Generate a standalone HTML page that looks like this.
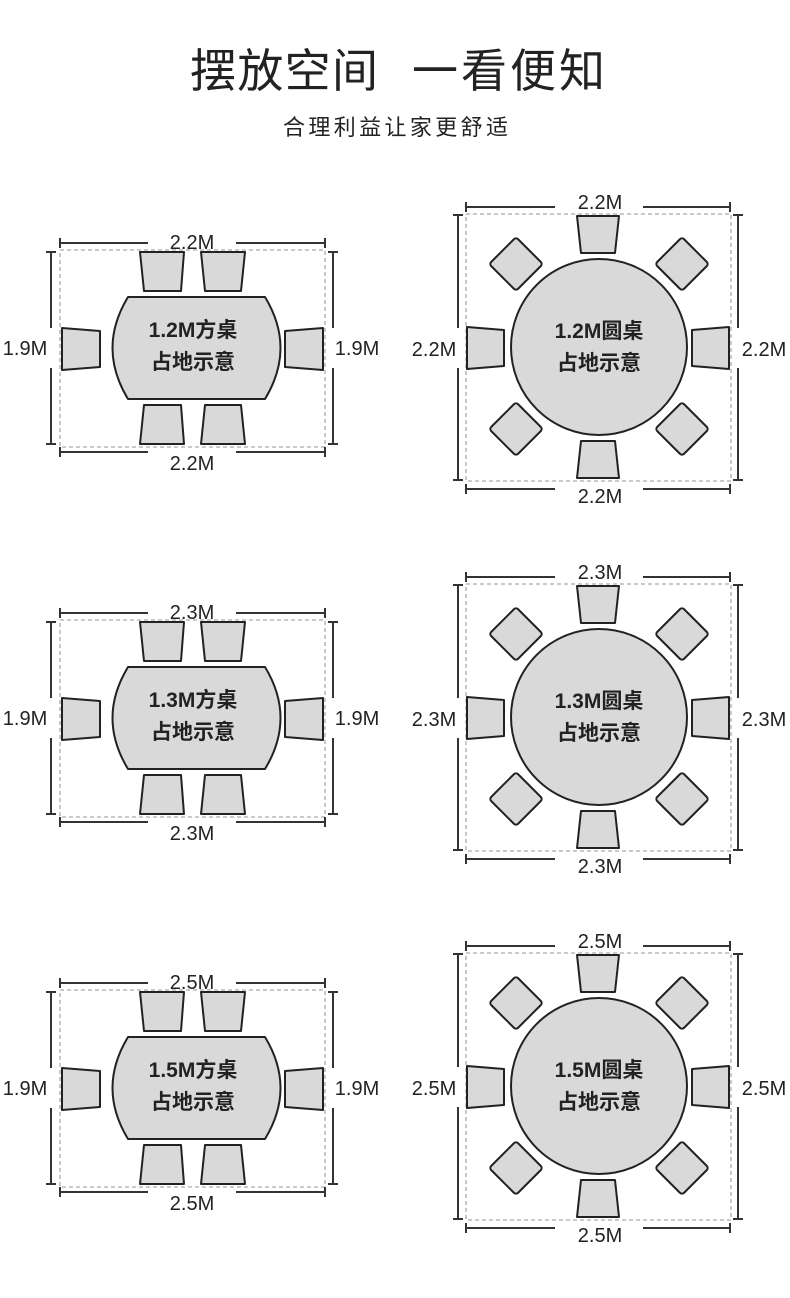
<!DOCTYPE html>
<html><head><meta charset="utf-8"><style>
html,body{margin:0;padding:0;background:#fff;}
svg{display:block;}
text{font-family:"Liberation Sans","Noto Sans CJK SC",sans-serif;fill:#222;}
.cn{font-family:"Noto Sans CJK SC",sans-serif;}
</style></head><body>
<svg width="790" height="1298" viewBox="0 0 790 1298" xmlns="http://www.w3.org/2000/svg">
<defs>
<g id="rect">
  <rect x="60" y="250" width="265" height="197" fill="none" stroke="#aaa" stroke-width="1.3" stroke-dasharray="4,3"/>
  <g stroke="#333" stroke-width="2" fill="none">
    <path d="M60 243H148M236 243H325M60 238V248M325 238V248"/>
    <path d="M60 452H148M236 452H325M60 447V457M325 447V457"/>
    <path d="M51 252V328M51 368V444M46 252H56M46 444H56"/>
    <path d="M333 252V328M333 368V444M328 252H338M328 444H338"/>
  </g>
  <g fill="#d9d9d9" stroke="#222" stroke-width="2" stroke-linejoin="round">
    <path d="M128 297H265Q296 348 265 399H128Q97 348 128 297Z"/>
    <path d="M140 252H184L181 291H144Z"/>
    <path d="M201 252H245L241 291H205Z"/>
    <path d="M144 405H181L184 444H140Z"/>
    <path d="M205 405H241L245 444H201Z"/>
    <path d="M62 328L100 331V367L62 370Z"/>
    <path d="M323 328L285 331V367L323 370Z"/>
  </g>
  <g font-size="20" text-anchor="middle">
    <text x="25" y="355">1.9M</text>
    <text x="357" y="355">1.9M</text>
  </g>
</g>
<g id="round">
  <rect x="466" y="214" width="265" height="267" fill="none" stroke="#aaa" stroke-width="1.3" stroke-dasharray="4,3"/>
  <g stroke="#333" stroke-width="2" fill="none">
    <path d="M466 207H555M643 207H730M466 202V212M730 202V212"/>
    <path d="M466 489H555M643 489H730M466 484V494M730 484V494"/>
    <path d="M458 215V328M458 368V480M453 215H463M453 480H463"/>
    <path d="M738 215V328M738 368V480M733 215H743M733 480H743"/>
  </g>
  <g fill="#d9d9d9" stroke="#222" stroke-width="2" stroke-linejoin="round">
    <circle cx="599" cy="347" r="88"/>
    <path d="M577 216H619L615 253H581Z"/>
    <path d="M581 441H615L619 478H577Z"/>
    <path d="M467 327L504 330V366L467 369Z"/>
    <path d="M729 327L692 330V366L729 369Z"/>
    <rect x="-19" y="-19" width="38" height="38" rx="3" transform="translate(516,264) rotate(45)"/>
    <rect x="-19" y="-19" width="38" height="38" rx="3" transform="translate(682,264) rotate(45)"/>
    <rect x="-19" y="-19" width="38" height="38" rx="3" transform="translate(516,429) rotate(45)"/>
    <rect x="-19" y="-19" width="38" height="38" rx="3" transform="translate(682,429) rotate(45)"/>
  </g>
</g>
</defs>
<text class="cn" x="190" y="87" font-size="46" textLength="188">摆放空间</text>
<text class="cn" x="412" y="87" font-size="46" textLength="193">一看便知</text>
<text class="cn" x="283" y="135" font-size="22" textLength="225" fill="#333">合理利益让家更舒适</text>

<use href="#rect"/>
<use href="#round"/>
<use href="#rect" y="370"/>
<use href="#round" y="370"/>
<use href="#rect" y="740"/>
<use href="#round" y="739"/>

<g font-size="21" font-weight="bold" text-anchor="middle">
  <text x="193" y="337">1.2M方桌</text><text x="193" y="369">占地示意</text>
  <text x="599" y="338">1.2M圆桌</text><text x="599" y="370">占地示意</text>
  <text x="193" y="707">1.3M方桌</text><text x="193" y="739">占地示意</text>
  <text x="599" y="708">1.3M圆桌</text><text x="599" y="740">占地示意</text>
  <text x="193" y="1077">1.5M方桌</text><text x="193" y="1109">占地示意</text>
  <text x="599" y="1077">1.5M圆桌</text><text x="599" y="1109">占地示意</text>
</g>
<g font-size="20" text-anchor="middle">
  <text x="192" y="249">2.2M</text><text x="192" y="470">2.2M</text>
  <text x="600" y="209">2.2M</text><text x="600" y="503">2.2M</text>
  <text x="434" y="356">2.2M</text><text x="764" y="356">2.2M</text>

  <text x="192" y="619">2.3M</text><text x="192" y="840">2.3M</text>
  <text x="600" y="579">2.3M</text><text x="600" y="873">2.3M</text>
  <text x="434" y="726">2.3M</text><text x="764" y="726">2.3M</text>

  <text x="192" y="989">2.5M</text><text x="192" y="1210">2.5M</text>
  <text x="600" y="948">2.5M</text><text x="600" y="1242">2.5M</text>
  <text x="434" y="1095">2.5M</text><text x="764" y="1095">2.5M</text>
</g>
</svg>
</body></html>
